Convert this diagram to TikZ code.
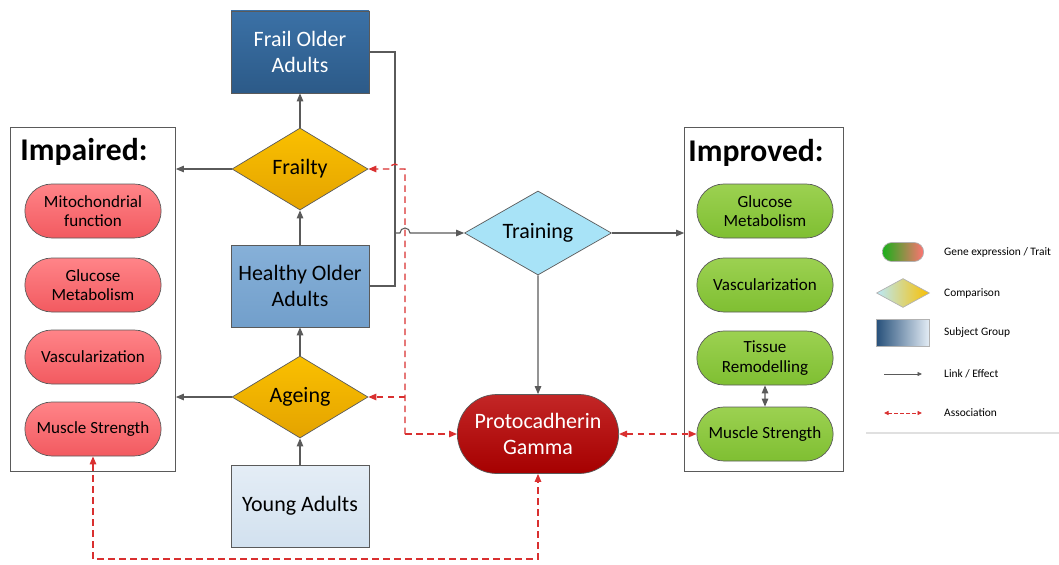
\documentclass[tikz,border=0pt]{standalone}
\usepackage{fontspec}
\setmainfont{Carlito}
\usetikzlibrary{shapes.geometric,shapes.misc,arrows.meta}
\definecolor{frailtop}{HTML}{3B71A6}
\definecolor{frailbot}{HTML}{2C5A88}
\definecolor{healthytop}{HTML}{86B0D8}
\definecolor{healthybot}{HTML}{729FCB}
\definecolor{youngtop}{HTML}{E4EDF6}
\definecolor{youngbot}{HTML}{D2E1EF}
\definecolor{goldtop}{HTML}{FAC000}
\definecolor{goldbot}{HTML}{E4A300}
\definecolor{traincyan}{HTML}{A8E3F7}
\definecolor{redtop}{HTML}{FF8488}
\definecolor{redbot}{HTML}{F25A60}
\definecolor{greentop}{HTML}{9CD151}
\definecolor{greenbot}{HTML}{7FBF32}
\definecolor{gammared}{HTML}{B80000}
\definecolor{assocred}{HTML}{D93030}
\definecolor{edgegray}{HTML}{5A5A5A}
\begin{document}
\begin{tikzpicture}[x=0.2mm,y=-0.2mm,
  >={Triangle[length=1.6mm,width=1.3mm]},
  group/.style={rectangle,draw=edgegray,minimum width=27.6mm,minimum height=16.4mm,align=center,font=\fontsize{12.5}{15}\selectfont},
  compare/.style={diamond,aspect=1.66,inner sep=1pt,draw=edgegray,minimum width=27.2mm,minimum height=16.4mm,top color=goldtop,bottom color=goldbot,font=\fontsize{12.5}{15}\selectfont},
  trait/.style={rounded rectangle,draw=edgegray,minimum width=29.6mm,minimum height=10.8mm,align=center,font=\fontsize{9.7}{11}\selectfont},
  bad/.style={trait,top color=redtop,bottom color=redbot},
  good/.style={trait,top color=greentop,bottom color=greenbot},
  panel/.style={rectangle,draw=edgegray,minimum height=68.8mm},
  title/.style={font=\fontsize{18}{20}\selectfont\bfseries},
  link/.style={draw=edgegray,line width=0.6pt},
  assoc/.style={draw=assocred,line width=0.75pt,dash pattern=on 1.3mm off 0.9mm},
  legtext/.style={anchor=west,font=\fontsize{6.5}{8}\selectfont}]
\useasboundingbox (0,0) rectangle (1059,565);

% subject groups and comparisons
\node[group,top color=frailtop,bottom color=frailbot,text=white] (frail) at (300,52) {Frail Older\\Adults};
\node[compare] (frailty) at (300,169) {Frailty};
\node[group,top color=healthytop,bottom color=healthybot] (healthy) at (300,286) {Healthy Older\\Adults};
\node[compare] (ageing) at (300,397) {Ageing};
\node[group,top color=youngtop,bottom color=youngbot] (young) at (300,506) {Young Adults};
\node[diamond,aspect=1.75,inner sep=1pt,draw=edgegray,fill=traincyan,minimum width=29.4mm,minimum height=16.8mm,font=\fontsize{12.5}{15}\selectfont] (training) at (538,233) {Training};
\node[rounded rectangle,draw=edgegray,top color=gammared!85!white,bottom color=gammared!90!black,text=white,minimum width=34.6mm,minimum height=15.8mm,align=center,font=\fontsize{12.5}{15}\selectfont] (gamma) at (538,434) {Protocadherin\\Gamma};

% impaired panel
\node[panel,minimum width=33mm] (impaired) at (93,299) {};
\node[title] (imptitle) at (84,152) {Impaired:};
\node[bad] (impmito) at (93,211) {Mitochondrial\\function};
\node[bad] (impgluc) at (93,285) {Glucose\\Metabolism};
\node[bad] (impvasc) at (93,357) {Vascularization};
\node[bad] (impmus) at (93,429) {Muscle Strength};

% improved panel
\node[panel,minimum width=31.8mm] (improved) at (764,299) {};
\node[title] (imptitle2) at (756,153) {Improved:};
\node[good] (gluc) at (765,211) {Glucose\\Metabolism};
\node[good] (vasc) at (765,285) {Vascularization};
\node[good] (tissue) at (765,358) {Tissue\\Remodelling};
\node[good] (mus) at (765,434) {Muscle Strength};

% links
\draw[link,->] (young) -- (ageing);
\draw[link,->] (ageing) -- (healthy);
\draw[link,->] (healthy) -- (frailty);
\draw[link,->] (frailty) -- (frail);
\draw[link,->] (frailty.west) -- (impaired.east |- frailty.west);
\draw[link,->] (ageing.west) -- (impaired.east |- ageing.west);
\coordinate (merge) at (395,233);
\draw[link] (frail.east) -| (merge);
\draw[link] (healthy.east) -| (merge);
\draw[link,->] (merge) -- (400,233) arc[start angle=180,end angle=360,radius=5] -- (training.west);
\draw[link,->] (training.east) -- (improved.west |- training.east);
\draw[link,->] (training) -- (gamma);
\draw[link,<->] (tissue) -- (mus);

% associations
\coordinate (atop) at (405,169);
\coordinate (amid) at (405,397);
\coordinate (abot) at (405,434);
\coordinate (low) at (0,559);
\draw[assoc,->] (abot) -- (atop) -- (400,169) arc[start angle=0,end angle=-180,radius=5] -- (frailty.east);
\draw[assoc,->] (amid) -- (ageing.east);
\draw[assoc,->] (abot) -- (gamma.west);
\draw[assoc,<->] (gamma.east) -- (mus.west);
\draw[assoc,<->] (impmus.south) -- (impmus.south |- low) -| (gamma.south);

% legend
\node[rounded rectangle,draw=black!30,left color=green!65!black!90,right color=red!55,minimum width=10.6mm,minimum height=3.8mm] (legtrait) at (903,252) {};
\node[legtext] (legtraittxt) at (938,252) {Gene expression / Trait};
\node[diamond,aspect=1.8,draw=black!30,left color=traincyan!80,right color=goldtop,minimum width=10.6mm,minimum height=5.8mm,inner sep=0pt] (legcomp) at (903,293) {};
\node[legtext] (legcomptxt) at (938,293) {Comparison};
\node[rectangle,draw=black!30,left color=frailbot!90!black,right color=youngtop,minimum width=10.6mm,minimum height=5.4mm] (leggroup) at (903,333) {};
\node[legtext] (leggrouptxt) at (938,333) {Subject Group};
\coordinate (leglinka) at (884,374);
\coordinate (leglinkb) at (922,374);
\draw[link,line width=0.4pt,-{Triangle[length=0.9mm,width=0.8mm]}] (leglinka) -- (leglinkb);
\node[legtext] (leglinktxt) at (938,374) {Link / Effect};
\coordinate (legassoca) at (884,413);
\coordinate (legassocb) at (922,413);
\draw[assoc,line width=0.5pt,dash pattern=on 0.7mm off 0.5mm,{Triangle[length=0.9mm,width=0.8mm]}-{Triangle[length=0.9mm,width=0.8mm]}] (legassoca) -- (legassocb);
\node[legtext] (legassoctxt) at (938,413) {Association};
\coordinate (legrulea) at (866,433);
\coordinate (legruleb) at (1059,433);
\draw[black!12,line width=0.6pt] (legrulea) -- (legruleb);
\end{tikzpicture}
\end{document}
